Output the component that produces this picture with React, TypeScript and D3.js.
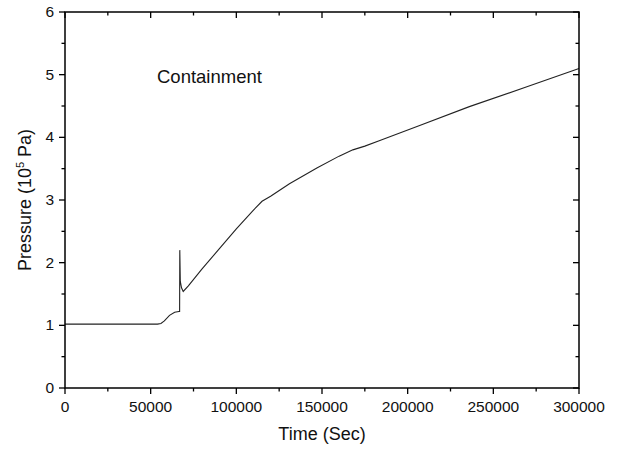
import React from "react";
import * as d3 from "d3";

const timeSec = [0, 10000, 20000, 30000, 40000, 50000, 54000, 56000, 58000, 61000, 64000, 66500, 66900, 67000, 67300, 68000, 69000, 72000, 80000, 90000, 100000, 110000, 115000, 120000, 131000, 147000, 160000, 168000, 175000, 183000, 207000, 236000, 270000, 300000];
const pressure = [1.02, 1.02, 1.02, 1.02, 1.02, 1.02, 1.02, 1.03, 1.07, 1.16, 1.21, 1.22, 1.22, 2.2, 1.7, 1.6, 1.54, 1.63, 1.9, 2.22, 2.54, 2.84, 2.98, 3.06, 3.26, 3.51, 3.70, 3.8, 3.86, 3.94, 4.19, 4.49, 4.81, 5.1];
const xTicks = [0, 50000, 100000, 150000, 200000, 250000, 300000];
const xMinor = [25000, 75000, 125000, 175000, 225000, 275000];
const yTicks = [0, 1, 2, 3, 4, 5, 6];
const yMinor = [0.5, 1.5, 2.5, 3.5, 4.5, 5.5];

const W = 618, H = 449;
const L = 65, R = 579, T = 12, B = 388;
const FONT = "'Liberation Sans', Arial, sans-serif";

export default function App() {
  const x = d3.scaleLinear().domain([0, 300000]).range([L, R]);
  const y = d3.scaleLinear().domain([0, 6]).range([B, T]);
  const data = timeSec.map((t, i) => [t, pressure[i]] as [number, number]);
  const line = d3.line<[number, number]>().x(d => x(d[0])).y(d => y(d[1]));
  const maj = 6, min = 3.5;
  return (
    <svg width={W} height={H} style={{ position: "absolute", left: 0, top: 0, background: "#fff" }}>
      <rect x={0} y={0} width={W} height={H} fill="#fff" />
      <path d={line(data) || ""} fill="none" stroke="#222" strokeWidth={1.1} />
      <rect x={L} y={T} width={R - L} height={B - T} fill="none" stroke="#000" strokeWidth={1.5} />
      {xTicks.map(t => (
        <g key={"x" + t}>
          <line x1={x(t)} x2={x(t)} y1={B} y2={B + maj} stroke="#000" strokeWidth={1.3} />
          <line x1={x(t)} x2={x(t)} y1={T} y2={T + maj} stroke="#000" strokeWidth={1.3} />
          <text x={x(t)} y={B + 24} textAnchor="middle" fontFamily={FONT} fontSize={15.5} fill="#111">{t}</text>
        </g>
      ))}
      {xMinor.map(t => (
        <g key={"xm" + t}>
          <line x1={x(t)} x2={x(t)} y1={B} y2={B + min} stroke="#000" strokeWidth={1.3} />
          <line x1={x(t)} x2={x(t)} y1={T} y2={T + min} stroke="#000" strokeWidth={1.3} />
        </g>
      ))}
      {yTicks.map(v => (
        <g key={"y" + v}>
          <line x1={L - maj} x2={L} y1={y(v)} y2={y(v)} stroke="#000" strokeWidth={1.3} />
          <line x1={R - maj} x2={R} y1={y(v)} y2={y(v)} stroke="#000" strokeWidth={1.3} />
          <text x={L - 11} y={y(v) + 5} textAnchor="end" fontFamily={FONT} fontSize={15.5} fill="#111">{v}</text>
        </g>
      ))}
      {yMinor.map(v => (
        <g key={"ym" + v}>
          <line x1={L - min} x2={L} y1={y(v)} y2={y(v)} stroke="#000" strokeWidth={1.3} />
          <line x1={R - min} x2={R} y1={y(v)} y2={y(v)} stroke="#000" strokeWidth={1.3} />
        </g>
      ))}
      <text x={(L + R) / 2} y={440} textAnchor="middle" fontFamily={FONT} fontSize={18} fill="#111">Time (Sec)</text>
      <text transform={`translate(31,${(T + B) / 2}) rotate(-90)`} textAnchor="middle" fontFamily={FONT} fontSize={18} fill="#111">
        Pressure (10<tspan fontSize={11} dy={-7}>5</tspan><tspan dy={7}> Pa)</tspan>
      </text>
      <text x={157} y={83} fontFamily={FONT} fontSize={18.5} fill="#111">Containment</text>
    </svg>
  );
}
